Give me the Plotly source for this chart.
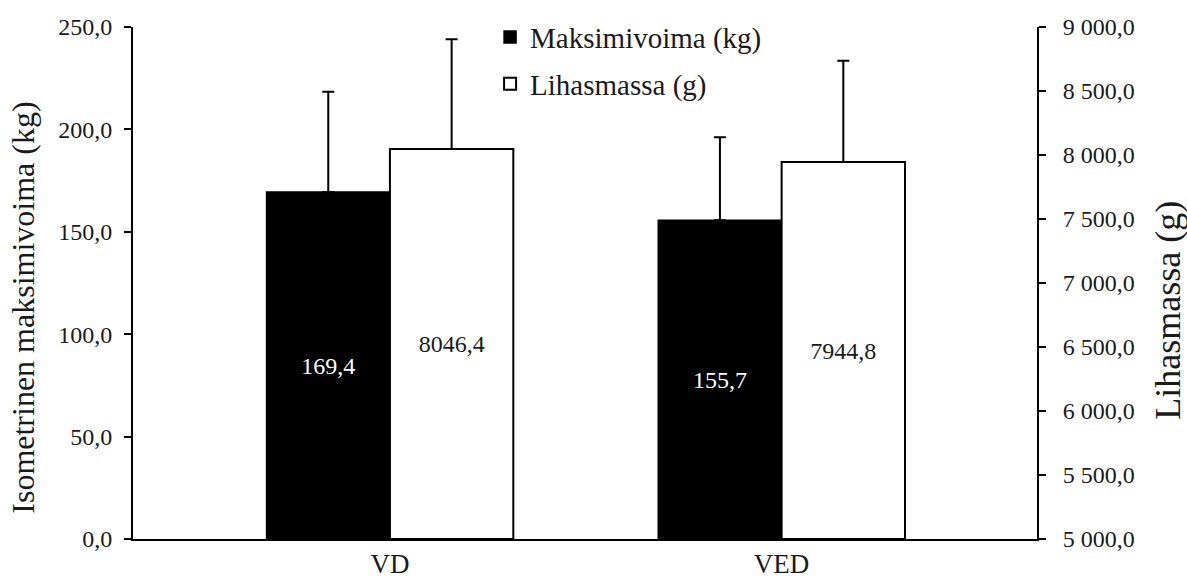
import plotly.graph_objects as go

# Group labels
groups = ["VD", "VED"]

# Isometric maximal force (kg), mean and SD
force_mean = [169.4, 155.7]
force_sd = [49.0, 40.5]

# Muscle mass (g), mean and SD
mass_mean = [8046.4, 7944.8]
mass_sd = [858.0, 791.0]

# Axis ticks
force_ticks = [0, 50, 100, 150, 200, 250]
mass_ticks = [5000, 5500, 6000, 6500, 7000, 7500, 8000, 8500, 9000]

MASS_MIN = 5000
FONT = "'Liberation Serif', 'Times New Roman', Times, serif"
TXT = "#1a1a1a"
NBSP = "\u00a0"


def fmt_dec(v):
    return f"{v:.1f}".replace(".", ",")


def fmt_thousands(v):
    return f"{v:,.1f}".replace(",", " ").replace(".", ",")


BAR_W = 0.315

fig = go.Figure()

fig.add_trace(go.Bar(
    name="Maksimivoima (kg)",
    x=groups,
    y=force_mean,
    width=BAR_W,
    offset=-BAR_W,
    marker=dict(color="black", line=dict(color="black", width=1.5)),
    error_y=dict(type="data", array=force_sd, symmetric=False, arrayminus=[0, 0],
                 color="black", thickness=2, width=6),
    text=[fmt_dec(v) for v in force_mean],
    textposition="inside",
    insidetextanchor="middle",
    textangle=0,
    textfont=dict(family=FONT, size=24, color="white"),
    legendgroup="a",
    yaxis="y",
))

fig.add_trace(go.Bar(
    name="Lihasmassa (g)",
    x=groups,
    y=[v - MASS_MIN for v in mass_mean],
    base=MASS_MIN,
    width=BAR_W,
    offset=0,
    marker=dict(color="white", line=dict(color="black", width=2)),
    error_y=dict(type="data", array=mass_sd, symmetric=False, arrayminus=[0, 0],
                 color="black", thickness=2, width=6),
    text=[fmt_dec(v) for v in mass_mean],
    textposition="inside",
    insidetextanchor="middle",
    textangle=0,
    textfont=dict(family=FONT, size=24, color=TXT),
    legendgroup="b",
    yaxis="y2",
))

# Axis titles placed as rotated annotations
fig.add_annotation(
    text="Isometrinen maksimivoima (kg)",
    xref="paper", yref="paper", x=0, y=0.4517,
    xanchor="center", yanchor="middle", xshift=-110,
    textangle=-90, showarrow=False,
    font=dict(family=FONT, size=32, color=TXT),
)
fig.add_annotation(
    text="Lihasmassa (g)",
    xref="paper", yref="paper", x=1, y=0.446,
    xanchor="center", yanchor="middle", xshift=131,
    textangle=-90, showarrow=False,
    font=dict(family=FONT, size=36, color=TXT),
)

fig.update_layout(
    width=1187,
    height=578,
    margin=dict(l=133, r=150, t=25, b=39),
    paper_bgcolor="white",
    plot_bgcolor="white",
    font=dict(family=FONT, color=TXT, size=24),
    showlegend=True,
    legend=dict(
        x=0.395, y=1.03, xanchor="left", yanchor="top",
        font=dict(family=FONT, size=29, color=TXT),
        bgcolor="rgba(0,0,0,0)",
        itemwidth=30,
        traceorder="grouped",
        tracegroupgap=6,
    ),
    xaxis=dict(
        type="category",
        range=[-0.656, 1.652],
        automargin=False,
        showline=True, linecolor="black", linewidth=2,
        ticks="", showgrid=False,
        tickfont=dict(family=FONT, size=27, color=TXT),
        ticklabelstandoff=0,
    ),
    yaxis=dict(
        range=[0, 250],
        automargin=False,
        tickvals=force_ticks,
        ticktext=[fmt_dec(v) for v in force_ticks],
        showline=True, linecolor="black", linewidth=2,
        ticks="outside", ticklen=7, tickwidth=2, tickcolor="black",
        showgrid=False, zeroline=False,
        tickfont=dict(family=FONT, size=24, color=TXT),
        ticklabelstandoff=7,
    ),
    yaxis2=dict(
        range=[MASS_MIN, 9000],
        overlaying="y",
        side="right",
        anchor="x",
        automargin=False,
        tickvals=mass_ticks,
        ticktext=[NBSP * 2 + fmt_thousands(v) for v in mass_ticks],
        showline=True, linecolor="black", linewidth=2,
        ticks="outside", ticklen=7, tickwidth=2, tickcolor="black",
        showgrid=False, zeroline=False,
        tickfont=dict(family=FONT, size=24, color=TXT),
    ),
)

fig.write_html("out.html")
